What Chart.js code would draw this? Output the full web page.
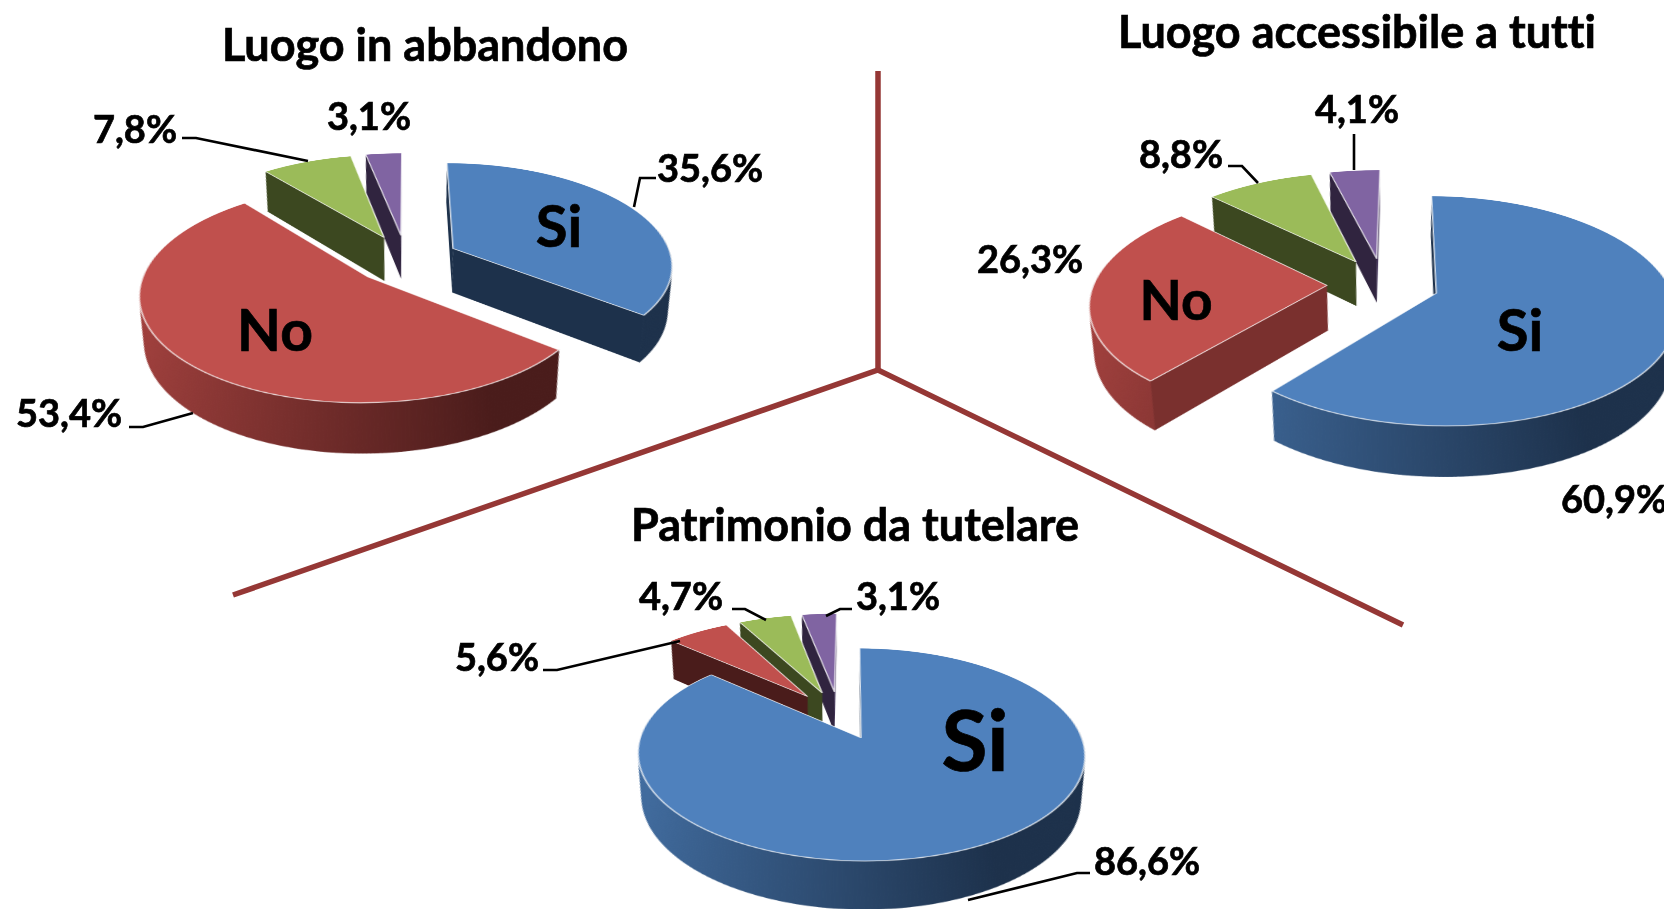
<!DOCTYPE html>
<html><head><meta charset="utf-8">
<style>
html,body{margin:0;padding:0;background:#fff;width:1664px;height:909px;overflow:hidden}
#stage{position:relative;width:1664px;height:909px;overflow:hidden;font-family:Lato,sans-serif;font-weight:700;color:#000;font-variant-ligatures:none}
canvas{position:absolute}
svg{position:absolute;left:0;top:0}
.t{position:absolute;transform:translate(-50%,-50%);white-space:nowrap;line-height:1;-webkit-text-stroke:0.7px #000}
</style>
<script src="https://cdn.jsdelivr.net/npm/chart.js@4"></script>
</head><body><div id="stage"></div>
<script>
const categories = ['Si', 'No', '', ''];
const abbandonoValues = [35.6, 53.4, 7.8, 3.1];
const accessibileValues = [60.9, 26.3, 8.8, 4.1];
const patrimonioValues = [86.6, 5.6, 4.7, 3.1];
const titles = ['Luogo in abbandono', 'Luogo accessibile a tutti', 'Patrimonio da tutelare'];

const topColors = ['#4F81BD', '#C0504D', '#9BBB59', '#8064A2'];
const rimLight = ['#436FA3', '#A5423F', '#86A24C', '#6E568C'];
const rimDark = ['#1D314B', '#4A1C1B', '#3C4820', '#30243F'];
const faceMid = ['#2C4A70', '#7A302E', '#5A6E30', '#4A3A60'];

const layouts = [
  {cx: 406, cy: 259, R: 219, off: 53, depth: 51, persp: 1300, tilt: 62.5, rot: 0},
  {cx: 1383, cy: 284, R: 233, off: 56, depth: 52, persp: 1350, tilt: 62, rot: 0.7},
  {cx: 839, cy: 715, R: 213, off: 53, depth: 48, persp: 1250, tilt: 63, rot: 0.5}
];
const SIZE = 860;

const shiftFor = (a, o) => {
  const m = (a.startAngle + a.endAngle) / 2;
  return [Math.cos(m) * o.explode, Math.sin(m) * o.explode];
};

const extrude = {
  id: 'extrude',
  beforeDatasetsDraw(chart, args, o) {
    const ctx = chart.ctx, arcs = chart.getDatasetMeta(0).data.map((a, i) => ({a, i}));
    const D = o.persp, c = Math.cos(o.tilt * Math.PI / 180), sn = Math.sin(o.tilt * Math.PI / 180);
    const ox = arcs[0].a.x, oy = arcs[0].a.y;
    // where a point h below the pie's top surface appears, expressed in the tilted canvas plane
    const lift = (x, y, h) => {
      const z = y * sn - h * c, s = D / (D - z);
      const Sx = x * s, Sy = (y * c + h * sn) * s;
      const Y = Sy * D / (c * D + Sy * sn), sp = D / (D - Y * sn);
      return [ox + Sx / sp, oy + Y];
    };
    const mid = e => (e.a.startAngle + e.a.endAngle) / 2;
    arcs.sort((p, q) => Math.sin(mid(p)) - Math.sin(mid(q)));
    for (const {a, i} of arcs) {
      const {startAngle: s, endAngle: e, outerRadius: r} = a;
      const [dx, dy] = shiftFor(a, o);
      const x = dx, y = dy;
      const g = ctx.createLinearGradient(ox + x - r, 0, ox + x + r, 0);
      g.addColorStop(0, rimLight[i]);
      g.addColorStop(0.75, rimDark[i]);
      g.addColorStop(1, rimDark[i]);
      ctx.fillStyle = g; ctx.strokeStyle = g; ctx.lineWidth = 0.6;
      const steps = Math.max(2, Math.ceil((e - s) / 0.015));
      for (let t = 0; t < steps; t++) {
        const a0 = s + (e - s) * t / steps, a1 = s + (e - s) * (t + 1) / steps;
        const x0 = x + Math.cos(a0) * r, y0 = y + Math.sin(a0) * r;
        const x1 = x + Math.cos(a1) * r, y1 = y + Math.sin(a1) * r;
        if (Math.sin((a0 + a1) / 2) < -0.2) continue;
        const A = lift(x0, y0, 0), B = lift(x1, y1, 0), C = lift(x1, y1, o.depth), E = lift(x0, y0, o.depth);
        ctx.beginPath();
        ctx.moveTo(A[0], A[1]); ctx.lineTo(B[0], B[1]); ctx.lineTo(C[0], C[1]); ctx.lineTo(E[0], E[1]);
        ctx.closePath(); ctx.fill(); ctx.stroke();
      }
      const eyeY = D * sn;
      const face = (ang, nAng) => {
        const nx = Math.cos(nAng), ny = Math.sin(nAng);
        if (nx * (0 - x) + ny * (eyeY - y) <= 0) return;
        const px = x + Math.cos(ang) * r, py = y + Math.sin(ang) * r;
        const A = lift(x, y, 0), B = lift(px, py, 0), C = lift(px, py, o.depth), E = lift(x, y, o.depth);
        ctx.fillStyle = nx > 0 ? faceMid[i] : rimDark[i];
        ctx.beginPath();
        ctx.moveTo(A[0], A[1]); ctx.lineTo(B[0], B[1]); ctx.lineTo(C[0], C[1]); ctx.lineTo(E[0], E[1]);
        ctx.closePath(); ctx.fill();
      };
      face(s, s - Math.PI / 2);
      face(e, e + Math.PI / 2);
    }
  },
  beforeDatasetDraw(chart, args, o) {
    const ctx = chart.ctx;
    for (const a of chart.getDatasetMeta(0).data) {
      const [dx, dy] = shiftFor(a, o);
      ctx.save();
      ctx.translate(dx, dy);
      a.draw(ctx, chart.chartArea);
      ctx.restore();
    }
    return false;
  }
};

const stage = document.getElementById('stage');
const allValues = [abbandonoValues, accessibileValues, patrimonioValues];

const NS = 'http://www.w3.org/2000/svg';
const svg = document.createElementNS(NS, 'svg');
svg.setAttribute('width', 1664); svg.setAttribute('height', 909);
function poly(points, color, w) {
  const p = document.createElementNS(NS, 'polyline');
  p.setAttribute('points', points);
  p.setAttribute('fill', 'none'); p.setAttribute('stroke', color); p.setAttribute('stroke-width', w);
  svg.appendChild(p);
}
poly('878,71 878,370', '#953735', 5.5);
poly('233,595 878,370 1403,625', '#953735', 5.5);
stage.appendChild(svg);

allValues.forEach((vals, n) => {
  const L = layouts[n];
  const c = document.createElement('canvas');
  c.width = SIZE; c.height = SIZE;
  c.style.left = (L.cx - SIZE / 2) + 'px';
  c.style.top = (L.cy - SIZE / 2) + 'px';
  stage.appendChild(c);
  new Chart(c, {
    type: 'pie',
    data: {labels: categories, datasets: [{data: vals, backgroundColor: topColors,
      borderColor: 'rgba(255,255,255,0.75)', borderWidth: 1.5}]},
    options: {
      responsive: false, animation: false, devicePixelRatio: 2,
      radius: L.R, rotation: L.rot,
      layout: {padding: 0},
      plugins: {legend: {display: false}, tooltip: {enabled: false},
        extrude: {depth: L.depth, explode: L.off, persp: L.persp, tilt: L.tilt}}
    },
    plugins: [extrude]
  });
  c.style.transformOrigin = '50% 50%';
  c.style.transform = `perspective(${L.persp}px) rotateX(${L.tilt}deg)`;
});

const svgTop = svg.cloneNode(false);
svgTop.style.zIndex = 2;
const leaders = [
  '656,178 640,178 634,207', '182,138 196,138 308,161', '129,427 143,427 193,413',
  '1228,166 1242,166 1258,183', '1354,134 1354,170',
  '1090,873 1077,873 968,900', '543,670 557,670 680,641', '732,609 745,609 766,620', '852,609 840,609 826,616'
];
leaders.forEach(pts => {
  const p = document.createElementNS(NS, 'polyline');
  p.setAttribute('points', pts); p.setAttribute('fill', 'none');
  p.setAttribute('stroke', '#000'); p.setAttribute('stroke-width', 2.6);
  svgTop.appendChild(p);
});
stage.appendChild(svgTop);

const pct = v => v.toFixed(1).replace('.', ',') + '%';
function text(s, x, y, size) {
  const d = document.createElement('div');
  d.className = 't'; d.textContent = s;
  d.style.left = x + 'px'; d.style.top = y + 'px'; d.style.fontSize = size + 'px';
  d.style.zIndex = 3;
  stage.appendChild(d);
}
text(titles[0], 425, 44, 45);
text(titles[1], 1357, 31, 45);
text(titles[2], 855, 524, 45);
const pctPos = [
  [[710,167],[69,412],[135,128],[369,115]],
  [[1614,498],[1030,258],[1181,153],[1357,108]],
  [[1147,860],[497,656],[681,595],[898,595]]
];
allValues.forEach((vals, n) => vals.forEach((v, i) => text(pct(v), pctPos[n][i][0], pctPos[n][i][1], 38)));
text(categories[0], 559, 225, 58); text(categories[1], 275, 329, 57);
text(categories[1], 1176, 299, 55); text(categories[0], 1520, 329, 58);
text(categories[0], 975, 739, 84);
</script></body></html>
